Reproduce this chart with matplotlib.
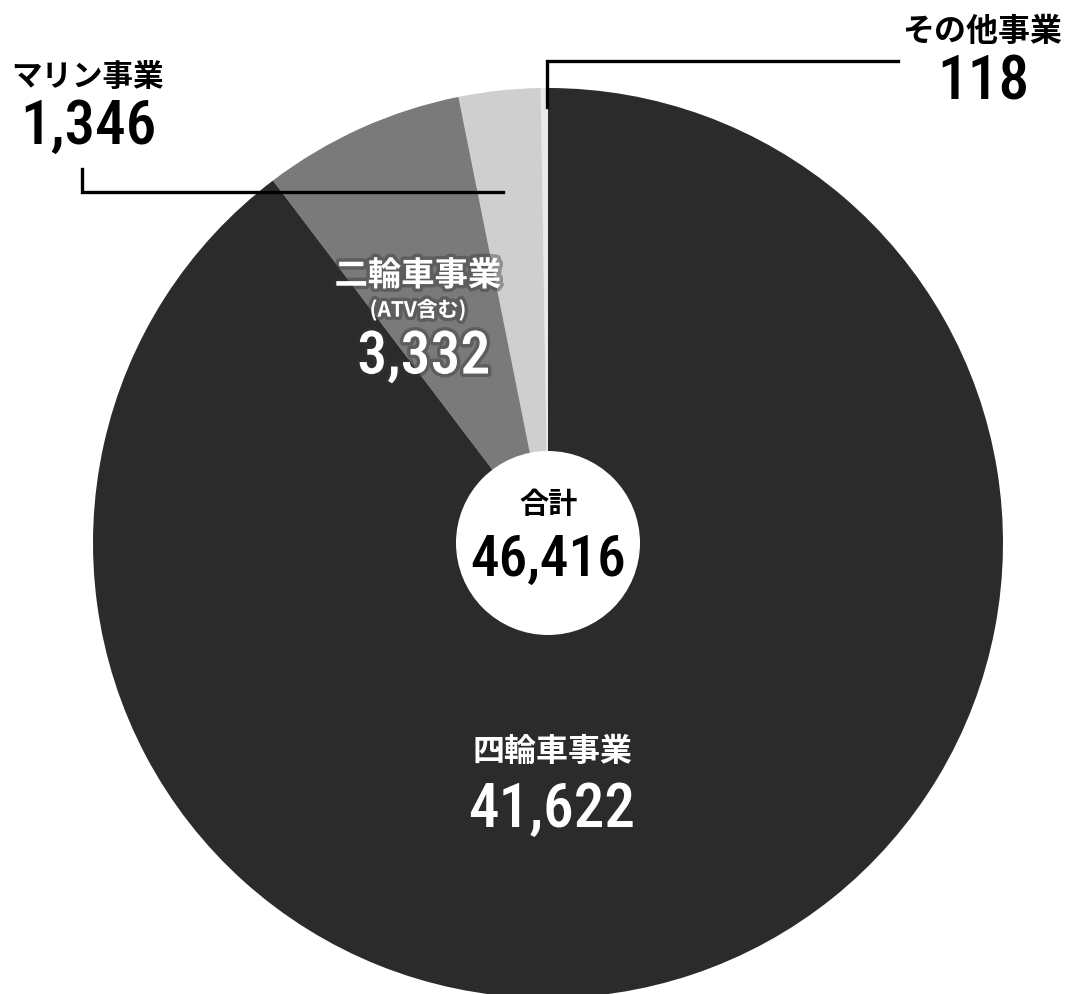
import matplotlib
matplotlib.use("Agg")
import matplotlib.pyplot as plt
import matplotlib.patheffects as pe
from matplotlib.patches import Circle
from matplotlib import font_manager as fm

# ---- data ----
segments = ["その他事業", "マリン事業", "二輪車事業", "四輪車事業"]
values = [118, 1346, 3332, 41622]
total = 46416
colors = ["#e9e9e9", "#cfcfcf", "#7a7a7a", "#2b2b2b"]

plt.rcParams["font.family"] = ["Noto Sans CJK JP", "DejaVu Sans"]

# narrow face for the big numbers
all_names = {f.name for f in fm.fontManager.ttflist}
NUM_FONT = "Roboto"
for cand in ["Roboto Condensed", "Liberation Sans Narrow", "Open Sans Condensed"]:
    if cand in all_names:
        NUM_FONT = cand
        break

fig = plt.figure(figsize=(10.66, 9.95), dpi=100)
ax = fig.add_axes([0, 0, 1, 1])

cx, cy, R = 548, 544, 455
ax.pie(values, colors=colors, startangle=-90, counterclock=False,
       center=(cx, cy), radius=R, wedgeprops=dict(linewidth=0))
ax.add_patch(Circle((cx, cy), 92, facecolor="white", edgecolor="none", zorder=3))

ax.set_xlim(0, 1066)
ax.set_ylim(995, 0)
ax.set_aspect("equal")
ax.axis("off")

fmt = lambda v: f"{v:,}"
num = dict(family=NUM_FONT, fontweight="medium", ha="center", va="center")

# leader lines
ax.plot([82, 82, 503], [170, 193, 193], color="black", lw=2.4,
        solid_joinstyle="miter", zorder=4)
ax.plot([898, 547, 547], [62, 62, 108], color="black", lw=2.4,
        solid_joinstyle="miter", zorder=4)

# マリン
ax.text(87, 77, segments[1], fontsize=22, fontweight="bold", ha="center", va="center")
ax.text(88, 127, fmt(values[1]), fontsize=44, **num)

# その他
ax.text(982, 32, segments[0], fontsize=23, fontweight="bold", ha="center", va="center")
ax.text(983, 82, fmt(values[0]), fontsize=44, **num)

# 二輪車
glow = [pe.withStroke(linewidth=5, foreground="#333333", alpha=0.4)]
ax.text(418, 277, segments[2], fontsize=24, fontweight="bold", color="white",
        ha="center", va="center", path_effects=glow, zorder=5)
ax.text(418, 311, "(ATV含む)", fontsize=15, fontweight="bold", color="white",
        ha="center", va="center", path_effects=glow, zorder=5)
ax.text(424, 358, fmt(values[2]), fontsize=43, color="white", path_effects=glow,
        zorder=5, **num)

# 合計
ax.text(549, 504, "合計", fontsize=21, fontweight="bold", ha="center", va="center", zorder=5)
ax.text(548, 560, fmt(total), fontsize=41, zorder=5, **num)

# 四輪車
ax.text(552, 752, segments[3], fontsize=23, fontweight="bold", color="white",
        ha="center", va="center", zorder=5)
ax.text(552, 810, fmt(values[3]), fontsize=44, color="white", zorder=5, **num)

fig.savefig("out.png", dpi=100, facecolor="white")
